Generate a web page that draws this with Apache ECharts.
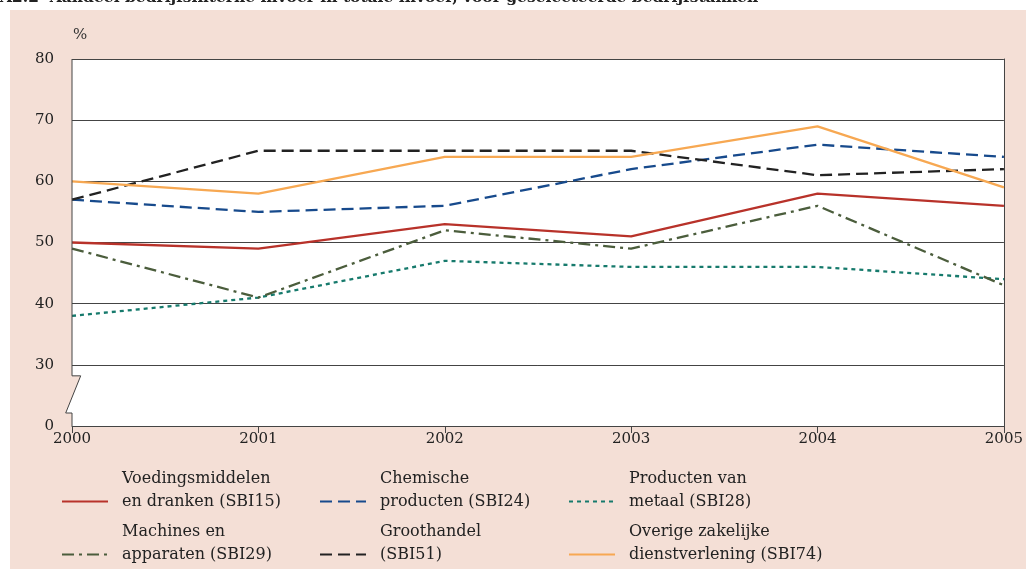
<!DOCTYPE html>
<html>
<head>
<meta charset="utf-8">
<script src="https://cdn.jsdelivr.net/npm/echarts@6/dist/echarts.min.js"></script>
<style>
html,body{margin:0;padding:0;background:#fff;}
#c{width:1026px;height:569px;}
</style>
</head>
<body>
<div id="c"></div>
<script>
const years = ['2000','2001','2002','2003','2004','2005'];
const yTicks = [20,30,40,50,60,70,80]; // bottom tick (20) is shown as "0" because of the axis break
const names = [
  'Voedingsmiddelen\nen dranken (SBI15)',
  'Chemische\nproducten (SBI24)',
  'Producten van\nmetaal (SBI28)',
  'Machines en\napparaten (SBI29)',
  'Groothandel\n(SBI51)',
  'Overige zakelijke\ndienstverlening (SBI74)'
];
const voeding   = [50,49,53,51,58,56];
const chemisch  = [57,55,56,62,66,64];
const metaal    = [38,41,47,46,46,44];
const machines  = [49,41,52,49,56,43];
const groothandel = [57,65,65,65,61,62];
const overig    = [60,58,64,64,69,59];

const colors = ['#b8322a','#174a8c','#167a6c','#4b5d3c','#222222','#f7a852'];
const dashes = ['solid',[12,6],[4,4],[12,5,3,5],[12,6],'solid'];
const seriesData = [voeding, chemisch, metaal, machines, groothandel, overig];

const FONT = 'DejaVu Serif';
const chart = echarts.init(document.getElementById('c'));

const legendPos = [
  {left:56, top:462}, {left:314, top:462}, {left:563, top:462},
  {left:56, top:515}, {left:314, top:515}, {left:563, top:515}
];

const option = {
  animation:false,
  textStyle:{fontFamily:FONT},
  title:{
    text:'A2.2  Aandeel bedrijfsinterne invoer in totale invoer, voor geselecteerde bedrijfstakken',
    left:-5, top:-15,
    textStyle:{fontFamily:FONT,fontSize:15.5,fontWeight:'bold',color:'#222'}
  },
  grid:{left:72,right:20,top:59,bottom:143,show:true,backgroundColor:'#fff',borderWidth:0},
  xAxis:{
    type:'category', data:years, boundaryGap:false,
    axisLine:{show:true,lineStyle:{color:'#444',width:1}},
    axisTick:{show:true,length:7,lineStyle:{color:'#444'}},
    axisLabel:{color:'#222',fontSize:15,fontFamily:FONT,margin:6,showMaxLabel:true,showMinLabel:true},
    splitLine:{show:false}
  },
  yAxis:[{
    type:'value', min:yTicks[0], max:yTicks[yTicks.length-1], interval:10,
    name:'%', nameLocation:'end', nameGap:16,
    nameTextStyle:{color:'#333',fontSize:15,fontFamily:FONT,align:'left',padding:[0,0,0,1]},
    axisLine:{show:false}, axisTick:{show:false},
    axisLabel:{color:'#222',fontSize:15,fontFamily:FONT,margin:18,
      formatter:v=> v===yTicks[0] ? '0' : String(v)},
    splitLine:{show:true,lineStyle:{color:'#444',width:1}}
  },{
    type:'value', min:yTicks[0], max:yTicks[yTicks.length-1], position:'right',
    axisLine:{show:true,lineStyle:{color:'#444',width:1}},
    axisTick:{show:false}, axisLabel:{show:false}, splitLine:{show:false}
  }],
  legend: names.map((n,i)=>({
    data:[n], left:legendPos[i].left, top:legendPos[i].top, orient:'horizontal',
    itemWidth:46, itemHeight:14, selectedMode:false,
    itemStyle:{opacity:0},
    formatter: nm => nm + '\n ',
    textStyle:{fontFamily:FONT,fontSize:16,color:'#222',lineHeight:23,padding:[0,0,0,9]}
  })),
  series: names.map((n,i)=>({
    name:n, type:'line', data:seriesData[i], symbol:'none',
    lineStyle:{color:colors[i],width:2.3,type:dashes[i]},
    itemStyle:{color:colors[i]}, z:3+i
  }))
};
chart.setOption(option);

// axis break decoration on the left axis
const pTop = chart.convertToPixel({yAxisIndex:0}, yTicks[yTicks.length-1]);
const y30 = chart.convertToPixel({yAxisIndex:0}, yTicks[1]);
const y0 = chart.convertToPixel({yAxisIndex:0}, yTicks[0]);
const x0 = chart.convertToPixel({xAxisIndex:0}, years[0]);
const bTop = y30 + 11, bBot = y0 - 13;
const cross = bTop + (bBot-bTop)*(8.7/(8.7+6.3));
chart.setOption({
  graphic:[
    {type:'rect', shape:{x:10,y:10,width:1016,height:559}, style:{fill:'#f4dfd6'}, z:-100, silent:true},
    {type:'polygon', shape:{points:[[x0,bTop],[x0+8.7,bTop],[x0,cross]]}, style:{fill:'#f4dfd6'}, z:50, silent:true},
    {type:'polygon', shape:{points:[[x0,cross],[x0-6.3,bBot],[x0,bBot]]}, style:{fill:'#fff'}, z:50, silent:true},
    {type:'polyline', shape:{points:[[x0,pTop],[x0,bTop],[x0+8.7,bTop],[x0-6.3,bBot],[x0,bBot],[x0,y0]]},
      style:{stroke:'#444',lineWidth:1,fill:null}, z:51, silent:true}
  ]
});
</script>
</body>
</html>
